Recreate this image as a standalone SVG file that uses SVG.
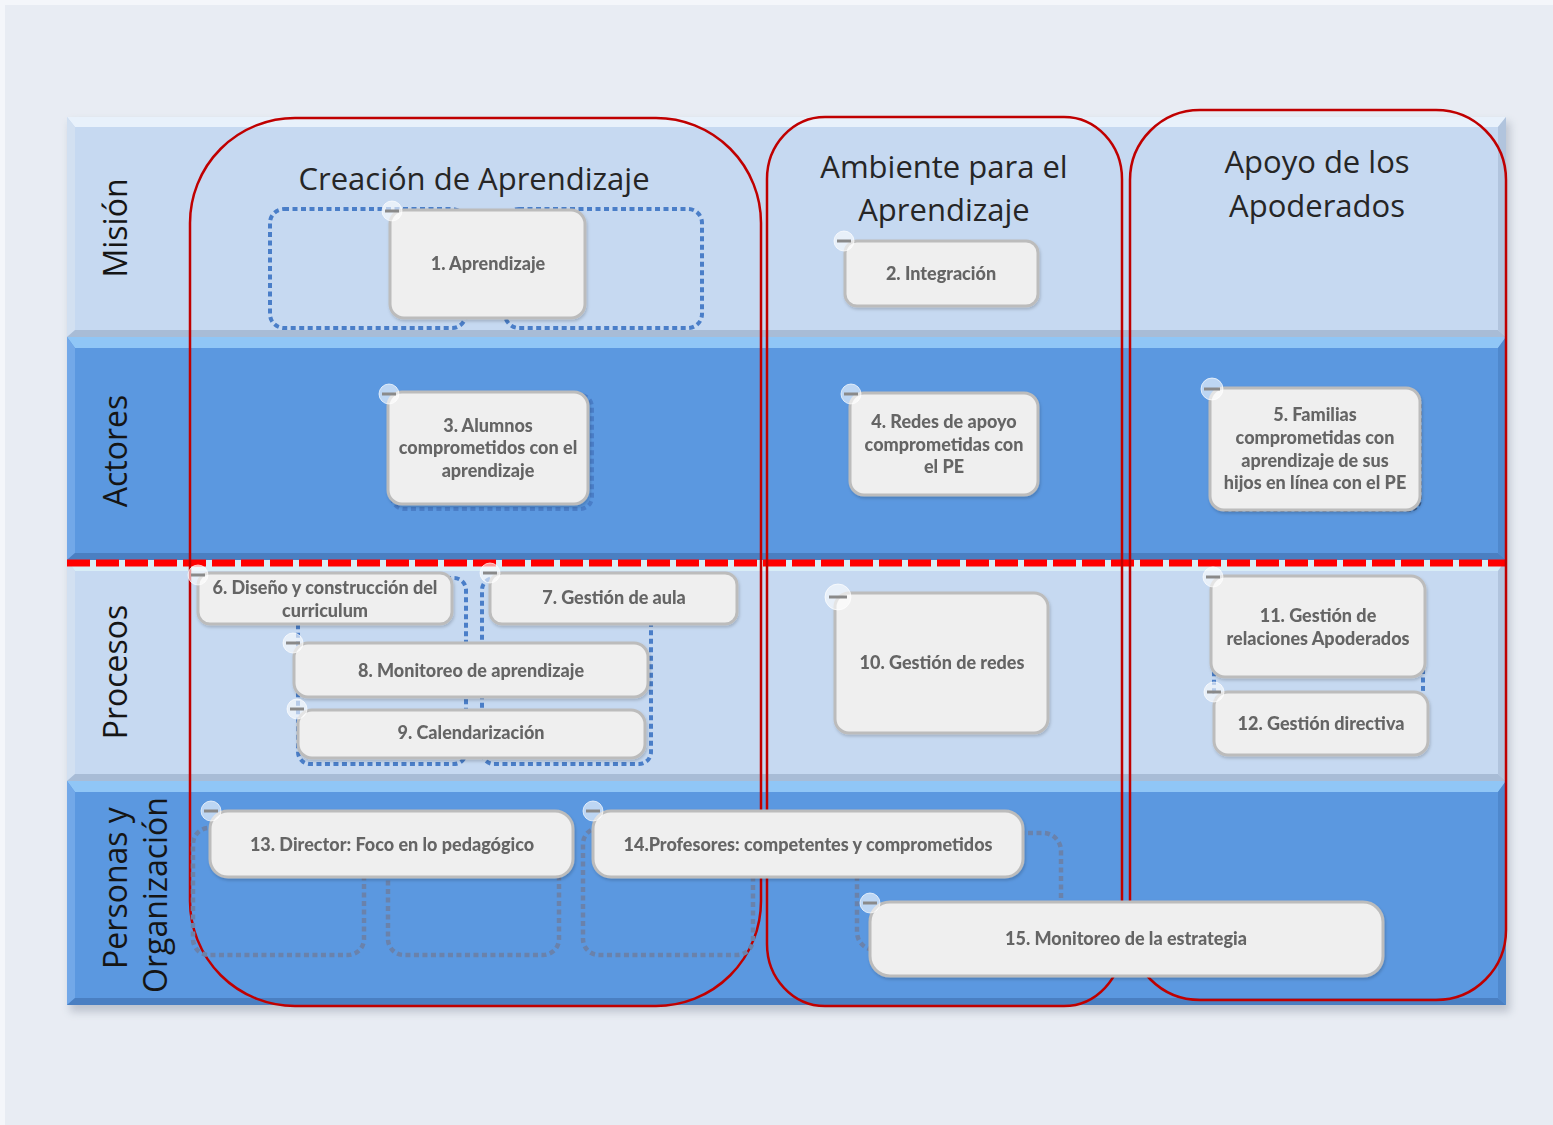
<svg xmlns="http://www.w3.org/2000/svg" width="1553" height="1125" viewBox="0 0 1553 1125">
<defs>
<filter id="pshadow" x="-5%" y="-5%" width="110%" height="110%"><feGaussianBlur stdDeviation="4"/></filter>
<filter id="nshadow" x="-10%" y="-10%" width="120%" height="130%"><feDropShadow dx="1" dy="2" stdDeviation="1.5" flood-color="#000" flood-opacity="0.18"/></filter>
</defs>
<style>
.node rect{fill:#efefef;stroke:#bcbcbc;stroke-width:3}
.node text{font-family:Lato,"Noto Sans",sans-serif;font-weight:900;font-size:18px;fill:#656565;text-anchor:middle}
.btn circle{fill:#ffffff;fill-opacity:0.6;stroke:#ffffff;stroke-opacity:0.7;stroke-width:1}
.btn line{stroke:#8a8a8a;stroke-width:3}
.dotL{fill:none;stroke:#4a7ec8;stroke-width:4;stroke-dasharray:5 3.5}
.dotD{fill:none;stroke:#6a82ab;stroke-width:4.5;stroke-dasharray:5 3.5}
.col{fill:none;stroke:#c00000;stroke-width:2.5}
.title{font-family:"Open Sans","Noto Sans",sans-serif;font-size:31px;fill:#262626;text-anchor:middle}
.rowlbl{font-family:"Open Sans","Noto Sans",sans-serif;font-size:32px;fill:#151515;text-anchor:middle}
</style>
<rect x="0" y="0" width="1553" height="1125" fill="#e8ecf3"/>
<rect x="0" y="0" width="1553" height="5" fill="#f4f6fa"/>
<rect x="0" y="0" width="5" height="1125" fill="#f4f6fa"/>
<rect x="70" y="122" width="1440" height="890" fill="#8a93a3" opacity="0.45" filter="url(#pshadow)"/>
<g id="rows">
<g id="row-mision">
<rect x="67" y="117" width="1439" height="220" fill="#c6d9f1"/>
<polygon points="67,117 1506,117 1498,127 75,127" fill="#e8f1fb"/>
<polygon points="67,117 75,127 75,330 67,337" fill="#d2e0f1"/>
<polygon points="67,337 75,330 1498,330 1506,337" fill="#a8bcd6"/>
<polygon points="1506,117 1506,337 1498,330 1498,127" fill="#b1c4dd"/>
</g>
<g id="row-actores">
<rect x="67" y="337" width="1439" height="223" fill="#5b98e0"/>
<polygon points="67,337 1506,337 1498,348 75,348" fill="#90c6f6"/>
<polygon points="67,337 75,348 75,553 67,560" fill="#72a8e8"/>
<polygon points="67,560 75,553 1498,553 1506,560" fill="#4a7fc2"/>
<polygon points="1506,337 1506,560 1498,553 1498,348" fill="#4f88cd"/>
</g>
<g id="row-procesos">
<rect x="67" y="560" width="1439" height="221" fill="#c6d9f1"/>
<polygon points="67,560 1506,560 1498,571 75,571" fill="#d9edf6"/>
<polygon points="67,560 75,571 75,774 67,781" fill="#d2e0f1"/>
<polygon points="67,781 75,774 1498,774 1506,781" fill="#a8bcd6"/>
<polygon points="1506,560 1506,781 1498,774 1498,571" fill="#b1c4dd"/>
</g>
<g id="row-personas">
<rect x="67" y="781" width="1439" height="224" fill="#5b98e0"/>
<polygon points="67,781 1506,781 1498,792 75,792" fill="#90c6f6"/>
<polygon points="67,781 75,792 75,998 67,1005" fill="#72a8e8"/>
<polygon points="67,1005 75,998 1498,998 1506,1005" fill="#4a7fc2"/>
<polygon points="1506,781 1506,1005 1498,998 1498,792" fill="#4f88cd"/>
</g>
</g>
<g id="row-labels">
<text class="rowlbl" transform="translate(127,228) rotate(-90)">Misión</text>
<text class="rowlbl" transform="translate(127,451) rotate(-90)">Actores</text>
<text class="rowlbl" transform="translate(127,672) rotate(-90)">Procesos</text>
<text class="rowlbl" transform="translate(127,888) rotate(-90)">Personas y</text>
<text class="rowlbl" transform="translate(167,895) rotate(-90)">Organización</text>
</g>
<line id="separator" x1="67" y1="563" x2="1506" y2="563" stroke="#ff0000" stroke-width="7" stroke-dasharray="23 6"/>
<g id="columns">
<g id="col-creacion">
<rect class="col" x="190" y="118" width="571" height="888" rx="105" ry="105"/>
<text class="title" x="474" y="190">Creación de Aprendizaje</text>
</g>
<g id="col-ambiente">
<rect class="col" x="767" y="117" width="355" height="889" rx="58" ry="62"/>
<text class="title" x="944" y="178">Ambiente para el</text>
<text class="title" x="944" y="221">Aprendizaje</text>
</g>
<g id="col-apoyo">
<rect class="col" x="1130" y="110" width="376" height="890" rx="70" ry="70"/>
<text class="title" x="1317" y="173">Apoyo de los</text>
<text class="title" x="1317" y="217">Apoderados</text>
</g>
</g>
<g id="boundaries">
<rect class="dotL" x="270" y="209" width="196" height="119" rx="14"/>
<rect class="dotL" x="505" y="209" width="197" height="119" rx="14"/>
<rect class="dotL" x="392" y="395" width="200" height="114" rx="12"/>
<rect fill="none" stroke="#3d5f8f" stroke-width="2" stroke-dasharray="4 3" x="1213" y="392" width="208" height="119" rx="12"/>
<rect class="dotL" x="298" y="578" width="168" height="186" rx="12"/>
<rect class="dotL" x="482" y="578" width="169" height="186" rx="12"/>
<rect class="dotL" x="1214" y="600" width="209" height="100" rx="10"/>
<rect class="dotD" x="193" y="828" width="171" height="127" rx="16"/>
<rect class="dotD" x="388" y="828" width="171" height="127" rx="16"/>
<rect class="dotD" x="583" y="828" width="170" height="127" rx="16"/>
<rect class="dotD" x="857" y="833" width="204" height="117" rx="18"/>
</g>
<g id="nodes" filter="url(#nshadow)">
<g id="n1" class="node"><rect x="390" y="210" width="195" height="108" rx="14"/><text x="488" y="270">1. Aprendizaje</text></g>
<g id="n2" class="node"><rect x="845" y="241" width="193" height="65" rx="12"/><text x="941" y="280">2. Integración</text></g>
<g id="n3" class="node"><rect x="388" y="392" width="200" height="112" rx="14"/><text x="488" y="432">3. Alumnos</text><text x="488" y="454">comprometidos con el</text><text x="488" y="477">aprendizaje</text></g>
<g id="n4" class="node"><rect x="850" y="393" width="188" height="102" rx="14"/><text x="944" y="428">4. Redes de apoyo</text><text x="944" y="451">comprometidas con</text><text x="944" y="473">el PE</text></g>
<g id="n5" class="node"><rect x="1210" y="388" width="210" height="122" rx="14"/><text x="1315" y="421">5. Familias</text><text x="1315" y="444">comprometidas con</text><text x="1315" y="467">aprendizaje de sus</text><text x="1315" y="489">hijos en línea con el PE</text></g>
<g id="n6" class="node"><rect x="198" y="573" width="254" height="51" rx="12"/><text x="325" y="594">6. Diseño y construcción del</text><text x="325" y="617">curriculum</text></g>
<g id="n7" class="node"><rect x="490" y="573" width="247" height="51" rx="12"/><text x="614" y="604">7. Gestión de aula</text></g>
<g id="n8" class="node"><rect x="294" y="643" width="354" height="54" rx="14"/><text x="471" y="677">8. Monitoreo de aprendizaje</text></g>
<g id="n9" class="node"><rect x="298" y="710" width="347" height="48" rx="14"/><text x="471" y="739">9. Calendarización</text></g>
<g id="n10" class="node"><rect x="835" y="593" width="213" height="140" rx="14"/><text x="942" y="669">10. Gestión de redes</text></g>
<g id="n11" class="node"><rect x="1211" y="576" width="214" height="101" rx="14"/><text x="1318" y="622">11. Gestión de</text><text x="1318" y="645">relaciones Apoderados</text></g>
<g id="n12" class="node"><rect x="1214" y="692" width="214" height="63" rx="14"/><text x="1321" y="730">12. Gestión directiva</text></g>
<g id="n13" class="node"><rect x="210" y="811" width="363" height="66" rx="18"/><text x="392" y="851">13. Director: Foco en lo pedagógico</text></g>
<g id="n14" class="node"><rect x="593" y="811" width="430" height="66" rx="18"/><text x="808" y="851">14.Profesores: competentes y comprometidos</text></g>
<g id="n15" class="node"><rect x="870" y="902" width="513" height="74" rx="20"/><text x="1126" y="945">15. Monitoreo de la estrategia</text></g>
</g>
<g id="buttons">
<g class="btn"><circle cx="392" cy="211" r="10"/><line x1="385" y1="211" x2="399" y2="211"/></g>
<g class="btn"><circle cx="844" cy="241" r="10"/><line x1="837" y1="241" x2="851" y2="241"/></g>
<g class="btn"><circle cx="389" cy="394" r="10"/><line x1="382" y1="394" x2="396" y2="394"/></g>
<g class="btn"><circle cx="851" cy="394" r="10"/><line x1="844" y1="394" x2="858" y2="394"/></g>
<g class="btn"><circle cx="1212" cy="389" r="11"/><line x1="1204" y1="389" x2="1220" y2="389"/></g>
<g class="btn"><circle cx="198" cy="575" r="10"/><line x1="191" y1="575" x2="205" y2="575"/></g>
<g class="btn"><circle cx="490" cy="573" r="10"/><line x1="483" y1="573" x2="497" y2="573"/></g>
<g class="btn"><circle cx="293" cy="643" r="10"/><line x1="286" y1="643" x2="300" y2="643"/></g>
<g class="btn"><circle cx="297" cy="709" r="10"/><line x1="290" y1="709" x2="304" y2="709"/></g>
<g class="btn"><circle cx="838" cy="597" r="13"/><line x1="829" y1="597" x2="847" y2="597"/></g>
<g class="btn"><circle cx="1213" cy="577" r="10"/><line x1="1206" y1="577" x2="1220" y2="577"/></g>
<g class="btn"><circle cx="1214" cy="692" r="10"/><line x1="1207" y1="692" x2="1221" y2="692"/></g>
<g class="btn"><circle cx="211" cy="811" r="10"/><line x1="204" y1="811" x2="218" y2="811"/></g>
<g class="btn"><circle cx="593" cy="811" r="10"/><line x1="586" y1="811" x2="600" y2="811"/></g>
<g class="btn"><circle cx="870" cy="903" r="10"/><line x1="863" y1="903" x2="877" y2="903"/></g>
</g>
</svg>
